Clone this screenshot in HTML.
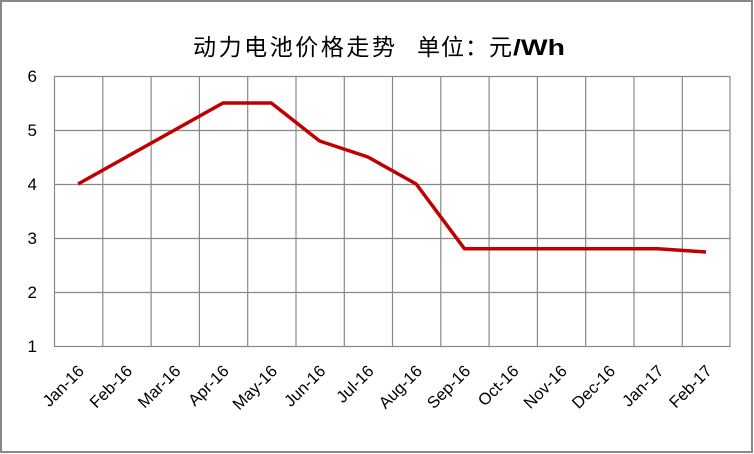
<!DOCTYPE html>
<html><head><meta charset="utf-8"><style>
html,body{margin:0;padding:0;background:#fff;}
svg{display:block;}
</style></head><body>
<svg width="754" height="454" xmlns="http://www.w3.org/2000/svg">
<rect x="1" y="1" width="751" height="451" fill="#fff" stroke="#888" stroke-width="2"/>
<g font-family="'Liberation Sans','Noto Sans CJK SC',sans-serif" font-size="23" fill="#000">
<text x="193" y="55" textLength="202" lengthAdjust="spacing">动力电池价格走势</text>
<text x="417" y="55" textLength="95" lengthAdjust="spacing">单位：元</text>
<text x="513" y="55" font-weight="bold" font-size="22" textLength="52" lengthAdjust="spacingAndGlyphs">/Wh</text>
</g>
<g stroke="#888" stroke-width="1.2" fill="none">
<rect x="54.5" y="76.5" width="675.5" height="270"/>
<line x1="54" y1="130.5" x2="730" y2="130.5"/>
<line x1="54" y1="184.5" x2="730" y2="184.5"/>
<line x1="54" y1="238.5" x2="730" y2="238.5"/>
<line x1="54" y1="292.5" x2="730" y2="292.5"/>
<line x1="102.8" y1="76" x2="102.8" y2="346"/>
<line x1="151.1" y1="76" x2="151.1" y2="346"/>
<line x1="199.4" y1="76" x2="199.4" y2="346"/>
<line x1="247.7" y1="76" x2="247.7" y2="346"/>
<line x1="296" y1="76" x2="296" y2="346"/>
<line x1="344.3" y1="76" x2="344.3" y2="346"/>
<line x1="392.5" y1="76" x2="392.5" y2="346"/>
<line x1="440.8" y1="76" x2="440.8" y2="346"/>
<line x1="489.1" y1="76" x2="489.1" y2="346"/>
<line x1="537.4" y1="76" x2="537.4" y2="346"/>
<line x1="585.7" y1="76" x2="585.7" y2="346"/>
<line x1="634" y1="76" x2="634" y2="346"/>
<line x1="682.3" y1="76" x2="682.3" y2="346"/>
</g>
<g font-family="'Liberation Sans',sans-serif" font-size="17" fill="#000" text-anchor="end">
<text x="37" y="82">6</text><text x="37" y="136">5</text><text x="37" y="190">4</text>
<text x="37" y="244">3</text><text x="37" y="298">2</text><text x="37" y="352">1</text>
</g>
<polyline fill="none" stroke="#c00000" stroke-width="3.5" stroke-linejoin="round" points="78.1,184 126.4,157 174.7,130 223,103 271.3,103 319.6,141 367.9,157 416.2,184 464.5,248.8 512.8,248.8 561.1,248.8 609.4,248.8 657.7,248.8 706,252"/>
<g font-family="'Liberation Sans',sans-serif" font-size="16.5" fill="#000" text-anchor="end">
<text transform="translate(85,372) rotate(-45)">Jan-16</text>
<text transform="translate(133.3,372) rotate(-45)">Feb-16</text>
<text transform="translate(181.6,372) rotate(-45)">Mar-16</text>
<text transform="translate(229.9,372) rotate(-45)">Apr-16</text>
<text transform="translate(278.2,372) rotate(-45)">May-16</text>
<text transform="translate(326.5,372) rotate(-45)">Jun-16</text>
<text transform="translate(374.8,372) rotate(-45)">Jul-16</text>
<text transform="translate(423.1,372) rotate(-45)">Aug-16</text>
<text transform="translate(471.4,372) rotate(-45)">Sep-16</text>
<text transform="translate(519.7,372) rotate(-45)">Oct-16</text>
<text transform="translate(568,372) rotate(-45)">Nov-16</text>
<text transform="translate(616.3,372) rotate(-45)">Dec-16</text>
<text transform="translate(664.6,372) rotate(-45)">Jan-17</text>
<text transform="translate(712.9,372) rotate(-45)">Feb-17</text>
</g>
</svg>
</body></html>
